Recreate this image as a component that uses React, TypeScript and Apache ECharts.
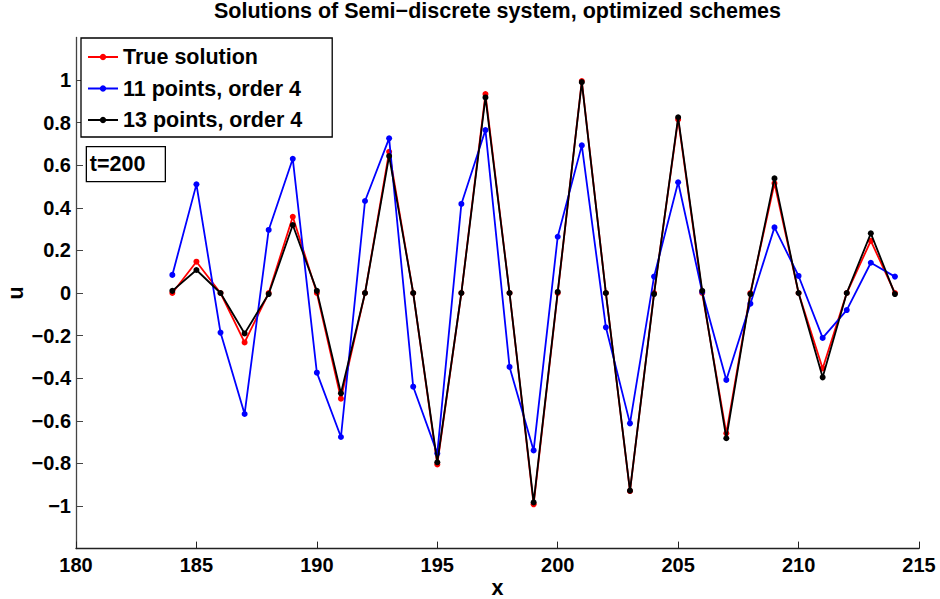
import React, { useEffect, useRef } from "react";
import * as echarts from "echarts";

const xValues = [184, 185, 186, 187, 188, 189, 190, 191, 192, 193, 194, 195, 196, 197, 198, 199, 200, 201, 202, 203, 204, 205, 206, 207, 208, 209, 210, 211, 212, 213, 214];

const trueSolution = [0, 0.147, 0, -0.232, 0, 0.358, 0, -0.496, 0, 0.663, 0, -0.805, 0, 0.934, 0, -0.992, 0, 0.995, 0, -0.93, 0, 0.815, 0, -0.659, 0, 0.515, 0, -0.354, 0, 0.245, 0];

const points11 = [0.085, 0.51, -0.186, -0.568, 0.296, 0.63, -0.374, -0.676, 0.432, 0.726, -0.44, -0.753, 0.418, 0.765, -0.347, -0.739, 0.264, 0.693, -0.161, -0.612, 0.077, 0.52, 0.005, -0.408, -0.05, 0.308, 0.08, -0.211, -0.08, 0.142, 0.077];

const points13 = [0.01, 0.108, 0, -0.19, -0.005, 0.319, 0.01, -0.471, 0, 0.643, 0, -0.795, 0, 0.918, 0, -0.983, 0.005, 0.99, 0, -0.928, -0.005, 0.825, 0.01, -0.682, -0.005, 0.538, 0, -0.396, 0, 0.28, -0.005];

const seriesNames = ["True solution", "11 points, order 4", "13 points, order 4"];
const seriesColors = ["#ff0000", "#0000ff", "#000000"];
const yTickValues = [-1, -0.8, -0.6, -0.4, -0.2, 0, 0.2, 0.4, 0.6, 0.8, 1];
const xTickValues = [180, 185, 190, 195, 200, 205, 210, 215];

const titleText = "Solutions of Semi\u2212discrete system, optimized schemes";
const annotationText = "t=200";

const FONT = '"Liberation Sans", Arial, Helvetica, sans-serif';

function fmtY(v: number): string {
  const r = Math.round(v * 10) / 10;
  const s = String(Math.abs(r));
  return r < 0 ? "\u2212" + s : s;
}

export default function App() {
  const ref = useRef<HTMLDivElement>(null);
  useEffect(() => {
    if (!ref.current) return;
    const chart = echarts.init(ref.current, null, { renderer: "svg" });
    const allData = [trueSolution, points11, points13];
    const series = allData.map((vals, i) => ({
      name: seriesNames[i],
      type: "line",
      data: xValues.map((x, j) => [x, vals[j]]),
      symbol: "circle",
      symbolSize: 6,
      showSymbol: true,
      color: seriesColors[i],
      lineStyle: { width: 1.8, color: seriesColors[i] },
      itemStyle: { color: seriesColors[i] },
      z: 2 + i,
    }));
    const axisText = { fontFamily: FONT, fontSize: 20, fontWeight: "bold", color: "#000" };
    chart.setOption({
      animation: false,
      backgroundColor: "#fff",
      title: {
        text: titleText,
        left: 497.5,
        top: 0,
        padding: 0,
        textAlign: "center",
        textStyle: { fontFamily: FONT, fontSize: 21.5, fontWeight: "bold", color: "#000" },
      },
      legend: {
        data: seriesNames,
        orient: "vertical",
        left: 81,
        top: 38,
        padding: [8, 30, 6, 6],
        itemGap: 9.5,
        itemWidth: 30,
        itemHeight: 8,
        borderColor: "#000",
        borderWidth: 1.3,
        backgroundColor: "#fff",
        textStyle: { fontFamily: FONT, fontSize: 21.5, fontWeight: "bold", color: "#000", lineHeight: 22 },
      },
      grid: { left: 76, right: 21, top: 37.4, bottom: 50.4, containLabel: false, outerBoundsMode: "none" },
      xAxis: {
        type: "value",
        min: 180,
        max: 215,
        interval: 5,
        name: "x",
        nameLocation: "middle",
        nameGap: 28,
        nameMoveOverlap: false,
        nameTextStyle: { fontFamily: FONT, fontSize: 21.5, fontWeight: "bold", color: "#000" },
        axisLine: { onZero: false, lineStyle: { color: "#222", width: 1.3 } },
        axisTick: { inside: true, length: 7, lineStyle: { color: "#222", width: 1 }, customValues: xTickValues },
        axisLabel: { ...axisText, margin: 6, customValues: xTickValues },
        splitLine: { show: false },
      },
      yAxis: {
        type: "value",
        min: -1.2,
        max: 1.2,
        interval: 0.2,
        name: "u",
        nameLocation: "middle",
        nameRotate: 90,
        nameGap: 49,
        nameMoveOverlap: false,
        nameTextStyle: { fontFamily: FONT, fontSize: 21.5, fontWeight: "bold", color: "#000" },
        axisLine: { onZero: false, lineStyle: { color: "#444", width: 1.3 } },
        axisTick: { inside: true, length: 7, lineStyle: { color: "#444", width: 1 }, customValues: yTickValues },
        axisLabel: { ...axisText, margin: 5, formatter: fmtY, customValues: yTickValues },
        splitLine: { show: false },
      },
      graphic: [
        {
          type: "group",
          left: 85.7,
          top: 146,
          z: 100,
          children: [
            {
              type: "rect",
              shape: { x: 0, y: 0, width: 79, height: 35 },
              style: { fill: "#fff", stroke: "#000", lineWidth: 1.3 },
            },
            {
              type: "text",
              x: 3.5,
              y: 17.5,
              style: {
                text: annotationText,
                font: `bold 21.5px ${FONT}`,
                fill: "#000",
                verticalAlign: "middle",
                align: "left",
              },
            },
          ],
        },
      ],
      series,
    });
    return () => chart.dispose();
  }, []);
  return (
    <div
      ref={ref}
      style={{ position: "absolute", left: 0, top: 0, width: 940, height: 599, background: "#fff" }}
    />
  );
}
